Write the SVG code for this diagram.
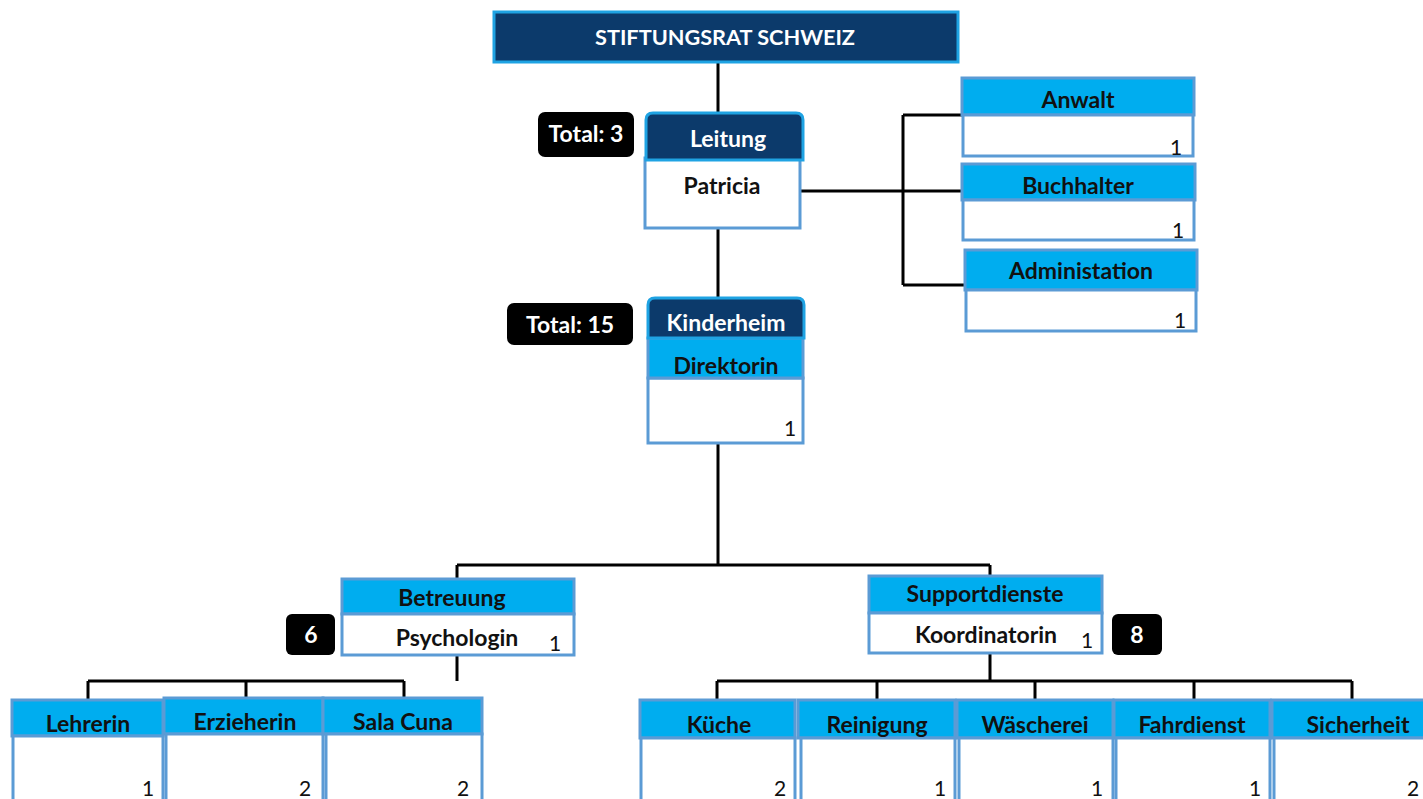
<svg xmlns="http://www.w3.org/2000/svg" width="1423" height="799" viewBox="0 0 1423 799">
<style>
.navy{fill:#0c3a6b;stroke:#1fa3e3;stroke-width:3}
.cyan{fill:#00adef;stroke:#5b9bd5;stroke-width:3}
.body{fill:#ffffff;stroke:#5b9bd5;stroke-width:3}
.tot{fill:#000000}
.t{font-family:Lato,"Open Sans","Liberation Sans",sans-serif;font-weight:bold;font-size:23px;text-anchor:middle}
.w{fill:#ffffff}
.k{fill:#111111}
.n{font-family:Lato,"Open Sans","Liberation Sans",sans-serif;font-size:21px;text-anchor:middle;fill:#111111}
.c{fill:none;stroke:#000000;stroke-width:3}
</style>
<rect width="1423" height="799" fill="#ffffff"/>
<g id="connectors">
<path class="c" d="M718 62V112M718 228V298M800 191H903M903 115V285M903 115H962M903 191H962M903 285H965M718 443V565M457 565H990M457 565V579M990 565V577M457 655V681M88 681H404M88 681V700M246 681V700M404 681V700M990 653V681M717 681H1352M717 681V700M877 681V700M1035 681V700M1194 681V700M1352 681V700"/>
</g>
<g id="stiftungsrat">
<rect class="navy" x="494" y="12" width="464" height="50"/>
<text class="t w" x="725" y="45" style="font-size:21.7px">STIFTUNGSRAT SCHWEIZ</text>
</g>
<g id="total3">
<rect class="tot" x="538" y="112" width="96" height="45" rx="7"/>
<text class="t w" x="586" y="142">Total: 3</text>
</g>
<g id="leitung">
<rect class="body" x="645" y="158" width="155" height="70"/>
<path class="navy" d="M646 160V120Q646 113 653 113H796Q803 113 803 120V160Z"/>
<text class="t w" x="728" y="147">Leitung</text>
<text class="t k" x="722" y="194">Patricia</text>
</g>
<g id="anwalt">
<rect class="cyan" x="962" y="78" width="232" height="37" stroke="none"/>
<rect class="body" x="963" y="115" width="230" height="41"/>
<text class="t k" x="1078" y="108">Anwalt</text>
<text class="n" x="1176" y="155">1</text>
</g>
<g id="buchhalter">
<rect class="cyan" x="962" y="164" width="233" height="36" stroke="none"/>
<rect class="body" x="963" y="200" width="231" height="40"/>
<text class="t k" x="1078" y="194">Buchhalter</text>
<text class="n" x="1178" y="238">1</text>
</g>
<g id="administation">
<rect class="cyan" x="965" y="250" width="232" height="40" stroke="none"/>
<rect class="body" x="966" y="290" width="230" height="41"/>
<text class="t k" x="1081" y="279">Administation</text>
<text class="n" x="1180" y="328">1</text>
</g>
<g id="total15">
<rect class="tot" x="507" y="303" width="126" height="42" rx="7"/>
<text class="t w" x="570" y="333">Total: 15</text>
</g>
<g id="kinderheim">
<rect class="body" x="648" y="378" width="155" height="65"/>
<rect class="cyan" x="648" y="338" width="155" height="40"/>
<path class="navy" d="M648 338V305Q648 298 655 298H797Q804 298 804 305V338Z"/>
<text class="t w" x="726" y="331">Kinderheim</text>
<text class="t k" x="726" y="374">Direktorin</text>
<text class="n" x="790" y="436">1</text>
</g>
<g id="betreuung">
<rect class="cyan" x="342" y="579" width="232" height="35"/>
<rect class="body" x="342" y="614" width="232" height="41"/>
<text class="t k" x="452" y="606">Betreuung</text>
<text class="t k" x="457" y="646">Psychologin</text>
<text class="n" x="555" y="651">1</text>
</g>
<g id="count6">
<rect class="tot" x="286" y="614" width="49" height="41" rx="6"/>
<text class="t w" x="311" y="643">6</text>
</g>
<g id="supportdienste">
<rect class="cyan" x="869" y="576" width="233" height="37"/>
<rect class="body" x="869" y="613" width="233" height="40"/>
<text class="t k" x="985" y="602">Supportdienste</text>
<text class="t k" x="986" y="643">Koordinatorin</text>
<text class="n" x="1087" y="648">1</text>
</g>
<g id="count8">
<rect class="tot" x="1112" y="614" width="50" height="41" rx="6"/>
<text class="t w" x="1137" y="643">8</text>
</g>
<g id="lehrerin">
<rect class="cyan" x="12" y="700" width="151" height="36" stroke="none"/>
<rect class="body" x="13" y="736" width="150" height="70"/>
<text class="t k" x="88" y="732">Lehrerin</text>
<text class="n" x="148" y="796">1</text>
</g>
<g id="erzieherin">
<rect class="cyan" x="164" y="698" width="159" height="36" stroke="none"/>
<rect class="body" x="166" y="734" width="157" height="72"/>
<text class="t k" x="245" y="730">Erzieherin</text>
<text class="n" x="305" y="796">2</text>
</g>
<g id="salacuna">
<rect class="cyan" x="323" y="698" width="159" height="36" stroke="none"/>
<rect class="body" x="326" y="734" width="156" height="72"/>
<text class="t k" x="403" y="730">Sala Cuna</text>
<text class="n" x="463" y="796">2</text>
</g>
<g id="kueche">
<rect class="cyan" x="640" y="700" width="155" height="38" stroke="none"/>
<rect class="body" x="641" y="738" width="154" height="68"/>
<text class="t k" x="719" y="733">Küche</text>
<text class="n" x="780" y="796">2</text>
</g>
<g id="reinigung">
<rect class="cyan" x="798" y="700" width="157" height="38" stroke="none"/>
<rect class="body" x="801" y="738" width="154" height="68"/>
<text class="t k" x="877" y="733">Reinigung</text>
<text class="n" x="940" y="796">1</text>
</g>
<g id="waescherei">
<rect class="cyan" x="957" y="700" width="156" height="38" stroke="none"/>
<rect class="body" x="959" y="738" width="154" height="68"/>
<text class="t k" x="1035" y="733">Wäscherei</text>
<text class="n" x="1097" y="796">1</text>
</g>
<g id="fahrdienst">
<rect class="cyan" x="1114" y="700" width="156" height="38" stroke="none"/>
<rect class="body" x="1116" y="738" width="154" height="68"/>
<text class="t k" x="1192" y="733">Fahrdienst</text>
<text class="n" x="1255" y="796">1</text>
</g>
<g id="sicherheit">
<rect class="cyan" x="1272" y="700" width="155" height="38" stroke="none"/>
<rect class="body" x="1274" y="738" width="153" height="68"/>
<text class="t k" x="1358" y="733">Sicherheit</text>
<text class="n" x="1413" y="796">2</text>
</g>
</svg>
